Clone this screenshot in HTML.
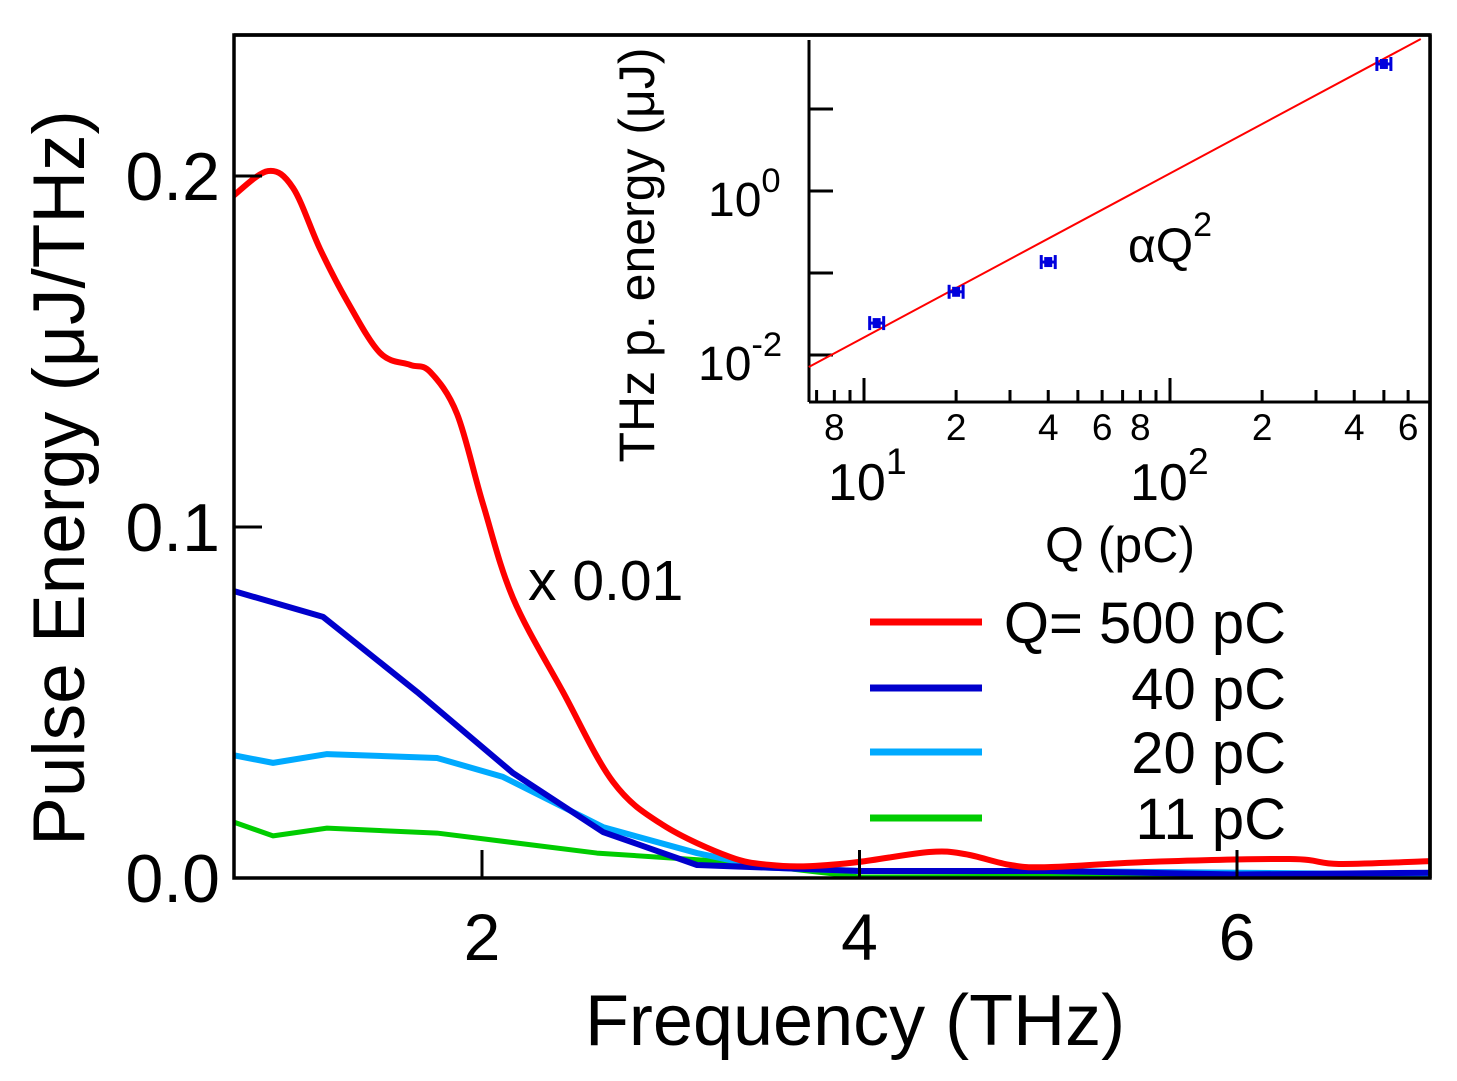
<!DOCTYPE html>
<html><head><meta charset="utf-8"><style>
html,body{margin:0;padding:0;background:#fff}
svg{display:block;font-family:"Liberation Sans",Arial,sans-serif}
</style></head><body>
<svg id="chart" width="1457" height="1081" viewBox="0 0 1457 1081">
<rect width="1457" height="1081" fill="#fff"/>
</svg>
<script>
// ---- main chart data ----
const freqRed = [0.681,0.866,0.999,1.142,1.285,1.46,1.619,1.725,1.868,2.005,2.164,2.429,2.694,2.959,3.314,3.53,3.74,4.0,4.37,4.56,4.8,5.0,5.54,6.28,6.54,7.02];
const q500 = [0.1943,0.2014,0.1966,0.1792,0.1644,0.1496,0.1462,0.1442,0.1322,0.1066,0.0798,0.053,0.0274,0.0151,0.006,0.0037,0.0034,0.0046,0.0074,0.0068,0.0037,0.0031,0.0046,0.0054,0.004,0.0048];
const freqBlue = [0.681,1.158,1.656,2.164,2.641,3.139,4.0,5.0,6.0,7.02];
const q40 = [0.0818,0.0744,0.053,0.0299,0.0131,0.0037,0.002,0.002,0.001,0.0015];
const freqCyan = [0.681,0.893,1.179,1.762,2.111,2.641,3.139,3.5,4.0,5.0,7.02];
const q20 = [0.035,0.0328,0.0353,0.0342,0.0288,0.0145,0.0071,0.003,0.002,0.002,0.001];
const freqGreen = [0.681,0.893,1.179,1.762,2.609,3.314,4.0,5.0,6.0,7.02];
const q11 = [0.016,0.012,0.0142,0.0128,0.0071,0.0046,0.0003,0.0005,0.001,0.001];
const xTicks = [2,4,6];
const yTicks = [0.0,0.1,0.2];
const yTickLabels = ["0.0","0.1","0.2"];
// ---- inset data ----
const insetQ = [11,20,40,500];
const insetE = [0.0245,0.059,0.136,35.4];
const fitAlpha = [0.000164];
const fitRange = [6.6,660];

const NS="http://www.w3.org/2000/svg";
const svg=document.getElementById('chart');
function el(tag,attrs,parent){const e=document.createElementNS(NS,tag);for(const k in attrs)e.setAttribute(k,attrs[k]);(parent||svg).appendChild(e);return e;}

const X0=234,X1=1430,Y0=35,Y1=878;
const xs=f=>482+(f-2)*188.75;
const ys=v=>878-v*3510;

function smoothPath(px,py){
  let d=`M${px[0]},${py[0]}`;
  for(let i=0;i<px.length-1;i++){
    const x0=px[Math.max(i-1,0)],y0=py[Math.max(i-1,0)];
    const x1=px[i],y1=py[i],x2=px[i+1],y2=py[i+1];
    const x3=px[Math.min(i+2,px.length-1)],y3=py[Math.min(i+2,px.length-1)];
    d+=` C${x1+(x2-x0)/6},${y1+(y2-y0)/6} ${x2-(x3-x1)/6},${y2-(y3-y1)/6} ${x2},${y2}`;
  }
  return d;
}
function linPath(px,py){return px.map((x,i)=>(i?'L':'M')+x+','+py[i]).join(' ');}
const clip=el('clipPath',{id:'mclip'});el('rect',{x:X0,y:Y0,width:X1-X0,height:Y1-Y0},clip);
const g=el('g',{'clip-path':'url(#mclip)'});
function seriesG(fr,vals,color,w,name,smooth){
  const px=fr.map(xs),py=vals.map(ys);
  const p=el('path',{d:smooth?smoothPath(px,py):linPath(px,py),fill:'none',stroke:color,'stroke-width':w,'stroke-linejoin':'round'},g);
  
  
}
seriesG(freqGreen,q11,'#00cc00',5,'series-11pc',false);
seriesG(freqCyan,q20,'#00aaff',6,'series-20pc',false);
seriesG(freqBlue,q40,'#0000cc',6,'series-40pc',false);
seriesG(freqRed,q500,'#ff0000',6,'series-500pc',true);

const fr=el('rect',{x:X0,y:Y0,width:X1-X0,height:Y1-Y0,fill:'none',stroke:'#000','stroke-width':3.5});

xTicks.forEach(t=>{
  const l=el('line',{x1:xs(t),x2:xs(t),y1:Y1,y2:Y1-28,stroke:'#000','stroke-width':3});
  
  const tx=el('text',{x:xs(t),y:960,'font-size':66,'text-anchor':'middle'});tx.textContent=t;
  
});
yTicks.forEach((t,i)=>{
  const l=el('line',{x1:X0,x2:X0+28,y1:ys(t),y2:ys(t),stroke:'#000','stroke-width':3});
  
  const tx=el('text',{x:220,y:ys(t)+24,'font-size':68,'text-anchor':'end'});tx.textContent=yTickLabels[i];
  
});
let t=el('text',{x:855,y:1045,'font-size':72,'text-anchor':'middle'});t.textContent='Frequency (THz)';

t=el('text',{x:0,y:0,'font-size':73,'text-anchor':'middle',transform:'translate(84,478) rotate(-90)'});t.textContent='Pulse Energy (\u03bcJ/THz)';

t=el('text',{x:528,y:600,'font-size':57});t.textContent='x 0.01';


const legNames=['Q= 500 pC','40 pC','20 pC','11 pC'];
const legCols=['#ff0000','#0000cc','#00aaff','#00cc00'];
const legY=[622,688,752,818];
legNames.forEach((n,i)=>{
  const l=el('line',{x1:870,x2:982,y1:legY[i],y2:legY[i],stroke:legCols[i],'stroke-width':7});
  
  const tx=el('text',{x:1286,y:legY[i]+21,'font-size':58,'text-anchor':'end'});tx.textContent=n;
  
});

// inset
const IX0=809,IY1=402;
const ixs=q=>864+(Math.log10(q)-1)*306;
const iys=e=>191-Math.log10(e)*82;
el('rect',{x:IX0,y:37,width:1430-IX0,height:IY1-37,fill:'#fff'});
let ax=el('line',{x1:IX0,x2:IX0,y1:40,y2:IY1,stroke:'#000','stroke-width':3});

ax=el('line',{x1:IX0,x2:1430,y1:IY1,y2:IY1,stroke:'#000','stroke-width':3});

[1,0,-1,-2].forEach(p=>{const l=el('line',{x1:IX0,x2:IX0+24,y1:iys(Math.pow(10,p)),y2:iys(Math.pow(10,p)),stroke:'#000','stroke-width':3});
  });
[7,8,9,10,20,30,40,50,60,70,80,90,100,200,300,400,500,600].forEach(q=>{
  const major=(q===10||q===100);
  const l=el('line',{x1:ixs(q),x2:ixs(q),y1:IY1,y2:IY1-(major?24:12),stroke:'#000','stroke-width':3});
  
});
[[8,'8'],[20,'2'],[40,'4'],[60,'6'],[80,'8'],[200,'2'],[400,'4'],[600,'6']].forEach(([q,s])=>{
  const tx=el('text',{x:ixs(q),y:440,'font-size':37,'text-anchor':'middle'});tx.textContent=s;
  
});
function pow10(x,y,exp,fs,name){
  const tx=el('text',{x:x,y:y,'font-size':fs});
  tx.textContent='10';
  const ts=el('tspan',{dy:-fs*0.5,'font-size':fs*0.72},tx);ts.textContent=exp;
  
}
pow10(828,500,'1',52,'inset-x-label-10');
pow10(1130,500,'2',52,'inset-x-label-100');
pow10(708,216,'0',48,'inset-y-label-1');
pow10(698,380,'-2',48,'inset-y-label-0.01');
t=el('text',{x:1120,y:562,'font-size':50,'text-anchor':'middle'});t.textContent='Q (pC)';

t=el('text',{x:0,y:0,'font-size':50,'text-anchor':'middle',transform:'translate(654,255) rotate(-90)'});t.textContent='THz p. energy (\u03bcJ)';

t=el('text',{x:1128,y:262,'font-size':48});t.textContent='\u03b1Q';
const sup=el('tspan',{dy:-26,'font-size':34},t);sup.textContent='2';

const fit=el('line',{x1:ixs(fitRange[0]),y1:iys(fitAlpha[0]*fitRange[0]**2),x2:ixs(fitRange[1]),y2:iys(fitAlpha[0]*fitRange[1]**2),stroke:'#ff0000','stroke-width':2});

insetQ.forEach((q,i)=>{
  const cx=ixs(q),cy=iys(insetE[i]);
  const gp=el('g',{});
  
  el('line',{x1:cx-7,x2:cx+7,y1:cy,y2:cy,stroke:'#0000dd','stroke-width':3},gp);
  el('line',{x1:cx-7,x2:cx-7,y1:cy-7,y2:cy+7,stroke:'#0000dd','stroke-width':3},gp);
  el('line',{x1:cx+7,x2:cx+7,y1:cy-7,y2:cy+7,stroke:'#0000dd','stroke-width':3},gp);
  el('rect',{x:cx-4,y:cy-5,width:8,height:10,fill:'#0000dd'},gp);
});
el('line',{x1:X0,x2:X1,y1:Y0,y2:Y0,stroke:'#000','stroke-width':3.5});
el('line',{x1:X1,x2:X1,y1:Y0,y2:Y1,stroke:'#000','stroke-width':3.5});
</script>
</body></html>
